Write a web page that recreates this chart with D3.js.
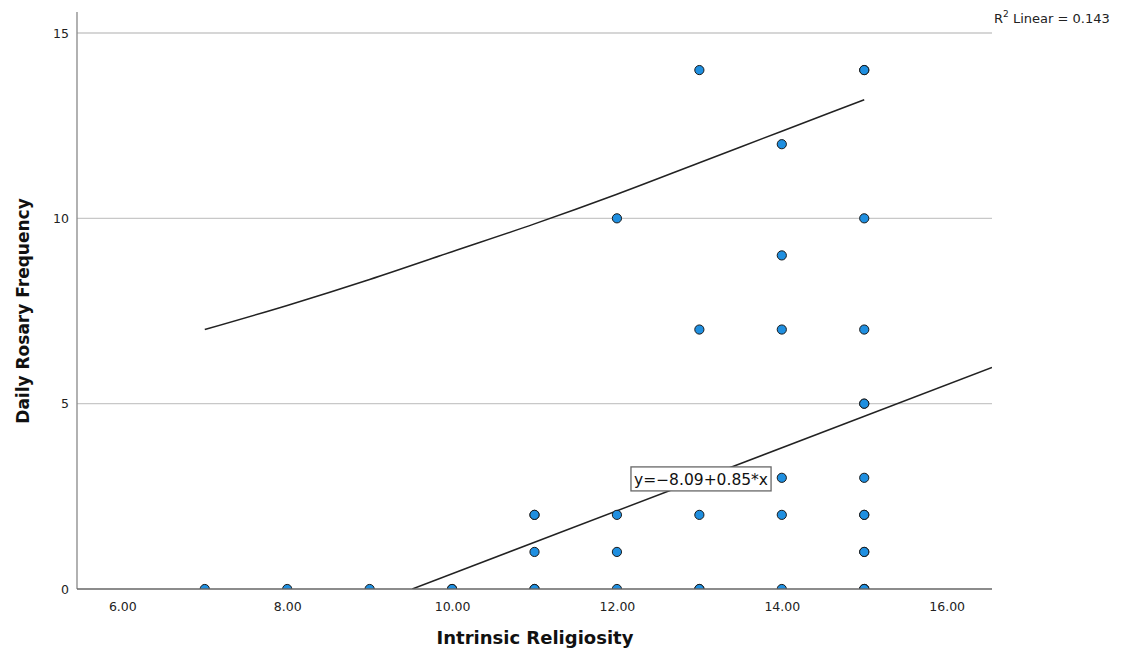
<!DOCTYPE html>
<html>
<head>
<meta charset="utf-8">
<script src="https://cdn.jsdelivr.net/npm/d3@7"></script>
<style>
    body { margin: 0; background: #fff; }
    svg { display: block; font-family: "DejaVu Sans", sans-serif; }
</style>
</head>
<body>
<svg id="chart" width="1125" height="653"></svg>
<script>
// Daten
const religiosity = [7, 8, 9, 10, 10,
    11, 11, 11, 11, 11,
    12, 12, 12, 12,
    13, 13, 13, 13, 13,
    14, 14, 14, 14, 14, 14,
    15, 15, 15, 15, 15, 15, 15, 15, 15, 15, 15, 15, 15, 15];
const rosary = [0, 0, 0, 0, 0,
    0, 0, 1, 2, 2,
    0, 1, 2, 10,
    0, 0, 2, 7, 14,
    0, 2, 3, 7, 9, 12,
    0, 0, 0, 1, 1, 2, 2, 3, 5, 5, 7, 10, 14, 14];

// Obere Vorhersagegrenze
const bandX = [7, 8, 9, 10, 11, 12, 13, 14, 15];
const bandY = [7.0, 7.65, 8.35, 9.1, 9.85, 10.65, 11.5, 12.35, 13.2];

// Regressionsgerade
const intercept = -8.09;
const slope = 0.85;
const rSquared = 0.143;

const xTicks = [6, 8, 10, 12, 14, 16];
const yTicks = [0, 5, 10, 15];

// Layout
const plot = { left: 77, right: 992, top: 12, bottom: 589 };

const svg = d3.select("#chart");

const x = d3.scaleLinear().domain([5.45, 16.55]).range([plot.left, plot.right]);
const y = d3.scaleLinear().domain([0, 15]).range([plot.bottom, 33]);

svg.append("defs").append("clipPath")
    .attr("id", "plot-clip")
    .append("rect")
    .attr("x", plot.left)
    .attr("y", plot.top)
    .attr("width", plot.right - plot.left)
    .attr("height", plot.bottom - plot.top);

// Gitterlinien
svg.append("g")
    .selectAll("line")
    .data(yTicks.filter(d => d > 0))
    .join("line")
    .attr("x1", plot.left)
    .attr("x2", plot.right)
    .attr("y1", d => y(d))
    .attr("y2", d => y(d))
    .attr("stroke", "#c8c8c8")
    .attr("stroke-width", 1.3);

const inner = svg.append("g").attr("clip-path", "url(#plot-clip)");

// Vorhersagegrenze
inner.append("path")
    .datum(d3.zip(bandX, bandY))
    .attr("fill", "none")
    .attr("stroke", "#222")
    .attr("stroke-width", 1.5)
    .attr("d", d3.line().x(d => x(d[0])).y(d => y(d[1])).curve(d3.curveMonotoneX));

// Regressionsgerade
const x0 = -intercept / slope;
const x1 = x.domain()[1];
inner.append("line")
    .attr("x1", x(x0))
    .attr("y1", y(intercept + slope * x0))
    .attr("x2", x(x1))
    .attr("y2", y(intercept + slope * x1))
    .attr("stroke", "#222")
    .attr("stroke-width", 1.5);

// Punkte
inner.append("g")
    .selectAll("circle")
    .data(d3.zip(religiosity, rosary))
    .join("circle")
    .attr("cx", d => x(d[0]))
    .attr("cy", d => y(d[1]))
    .attr("r", 4.6)
    .attr("fill", "#1f8fe0")
    .attr("stroke", "#1a1a1a")
    .attr("stroke-width", 1);

// Gleichungsbox
const eq = svg.append("g").attr("transform", `translate(${x(13.02)}, ${y(2.97)})`);
const eqText = eq.append("text")
    .attr("text-anchor", "middle")
    .attr("dy", "0.36em")
    .style("font-size", "15.5px")
    .attr("fill", "#111")
    .text(`y=${intercept.toFixed(2).replace("-", "\u2212")}+${slope.toFixed(2)}*x`);
const bb = eqText.node().getBBox();
eq.insert("rect", "text")
    .attr("x", bb.x - 3)
    .attr("y", -12)
    .attr("width", bb.width + 6)
    .attr("height", 24)
    .attr("fill", "#fff")
    .attr("stroke", "#666")
    .attr("stroke-width", 1.3);

// Achsen
svg.append("line")
    .attr("x1", plot.left).attr("x2", plot.left)
    .attr("y1", plot.top).attr("y2", plot.bottom)
    .attr("stroke", "#888").attr("stroke-width", 1.3);
svg.append("line")
    .attr("x1", plot.left).attr("x2", plot.right)
    .attr("y1", plot.bottom).attr("y2", plot.bottom)
    .attr("stroke", "#666").attr("stroke-width", 1.3);

const yAxis = svg.append("g")
    .attr("transform", `translate(${plot.left},0)`)
    .call(d3.axisLeft(y).tickValues(yTicks).tickSize(0).tickPadding(8).tickFormat(d3.format("d")));
yAxis.select(".domain").remove();

const xAxis = svg.append("g")
    .attr("transform", `translate(0,${plot.bottom})`)
    .call(d3.axisBottom(x).tickValues(xTicks).tickSize(0).tickPadding(13).tickFormat(d3.format(".2f")));
xAxis.select(".domain").remove();

svg.selectAll(".tick text")
    .style("font-family", "DejaVu Sans, sans-serif")
    .style("font-size", "12.5px")
    .attr("fill", "#222");

// Achsentitel
svg.append("text")
    .attr("x", 535)
    .attr("y", 644)
    .attr("text-anchor", "middle")
    .style("font-size", "18px")
    .style("font-weight", "bold")
    .attr("fill", "#111")
    .text("Intrinsic Religiosity");

svg.append("text")
    .attr("transform", "translate(29, 311) rotate(-90)")
    .attr("text-anchor", "middle")
    .style("font-size", "17px")
    .style("font-weight", "bold")
    .attr("fill", "#111")
    .text("Daily Rosary Frequency");

// R²-Beschriftung
const r2 = svg.append("text")
    .attr("x", 994)
    .attr("y", 23)
    .style("font-size", "13px")
    .attr("fill", "#222");
r2.append("tspan").text("R");
r2.append("tspan").attr("dy", -6).style("font-size", "9px").text("2");
r2.append("tspan").attr("dy", 6).text(` Linear = ${rSquared}`);
</script>
</body>
</html>
